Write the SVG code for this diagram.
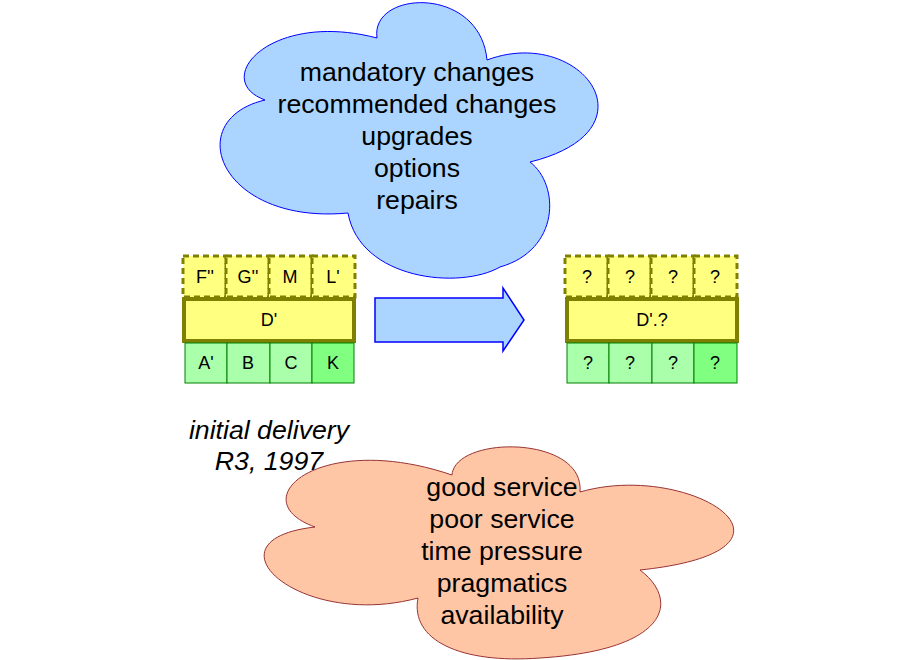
<svg xmlns="http://www.w3.org/2000/svg" width="920" height="660" viewBox="0 0 920 660">
<style>
.t{font-family:"Liberation Sans",Arial,sans-serif;fill:#000;text-anchor:middle}
.big{font-size:26.7px}
.sm{font-size:18px}
.dash{fill:#ffff80;stroke:#808000;stroke-width:3;stroke-dasharray:6 4}
.mid{fill:#ffff80;stroke:#808000;stroke-width:4}
.g{fill:#aaffaa;stroke:#008000;stroke-width:1}
.g2{fill:#80ff80;stroke:#008000;stroke-width:1}
</style>
<rect width="920" height="660" fill="#fff"/>
<g id="cloud-top">
<path d="M265,100 C210,80 270,10 377,38 C370,-10 480,-15 487,60 C580,25 660,130 530,162 C560,185 560,250 500,267 C460,290 360,280 348,213 C220,225 180,120 265,100 Z" fill="#abd5ff" stroke="#0000ff" stroke-width="1"/>
<text class="t big" x="417" y="81">mandatory changes</text>
<text class="t big" x="417" y="113">recommended changes</text>
<text class="t big" x="417" y="145">upgrades</text>
<text class="t big" x="417" y="177">options</text>
<text class="t big" x="417" y="209">repairs</text>
</g>
<g id="left-stack">
<rect class="dash" x="183" y="256" width="43" height="41"/>
<rect class="dash" x="226" y="256" width="43" height="41"/>
<rect class="dash" x="269" y="256" width="43" height="41"/>
<rect class="dash" x="312" y="256" width="43" height="41"/>
<rect class="mid" x="184" y="299" width="170" height="42"/>
<rect class="g" x="185" y="343" width="42" height="40"/>
<rect class="g" x="227" y="343" width="43" height="40"/>
<rect class="g" x="270" y="343" width="42" height="40"/>
<rect class="g2" x="312" y="343" width="42" height="40"/>
<text class="t sm" x="205" y="283">F''</text>
<text class="t sm" x="248" y="283">G''</text>
<text class="t sm" x="290" y="283">M</text>
<text class="t sm" x="333" y="283">L'</text>
<text class="t sm" x="269" y="326">D'</text>
<text class="t sm" x="206" y="369">A'</text>
<text class="t sm" x="248" y="369">B</text>
<text class="t sm" x="291" y="369">C</text>
<text class="t sm" x="333" y="369">K</text>
</g>
<g id="right-stack">
<rect class="dash" x="565" y="256" width="43" height="41"/>
<rect class="dash" x="608" y="256" width="43" height="41"/>
<rect class="dash" x="651" y="256" width="43" height="41"/>
<rect class="dash" x="694" y="256" width="43" height="41"/>
<rect class="mid" x="567" y="299" width="170" height="42"/>
<rect class="g" x="567" y="343" width="42" height="40"/>
<rect class="g" x="609" y="343" width="43" height="40"/>
<rect class="g" x="652" y="343" width="42" height="40"/>
<rect class="g2" x="694" y="343" width="43" height="40"/>
<text class="t sm" x="587" y="283">?</text>
<text class="t sm" x="630" y="283">?</text>
<text class="t sm" x="673" y="283">?</text>
<text class="t sm" x="715" y="283">?</text>
<text class="t sm" x="652" y="326">D'.?</text>
<text class="t sm" x="588" y="369">?</text>
<text class="t sm" x="630" y="369">?</text>
<text class="t sm" x="673" y="369">?</text>
<text class="t sm" x="715" y="369">?</text>
</g>
<g id="connectors">
<path d="M375,298 L503,298 L503,288 L524,320 L503,351 L503,342 L375,342 Z" fill="#abd5ff" stroke="#0000ff" stroke-width="1.5"/>
</g>
<g id="caption">
<text class="t big" x="269" y="439" font-style="italic">initial delivery</text>
<text class="t big" x="269" y="470" font-style="italic">R3, 1997</text>
</g>
<g id="cloud-bottom">
<path d="M315,527 C240,500 320,430 452,475 C455,435 585,435 580,492 C690,460 830,550 640,570 C680,600 670,650 540,658 C460,664 410,640 418,598 C300,630 200,540 315,527 Z" fill="#ffc6a6" stroke="#993333" stroke-width="1"/>
<text class="t big" x="502" y="496">good service</text>
<text class="t big" x="502" y="528">poor service</text>
<text class="t big" x="502" y="560">time pressure</text>
<text class="t big" x="502" y="592">pragmatics</text>
<text class="t big" x="502" y="624">availability</text>
</g>
</svg>
